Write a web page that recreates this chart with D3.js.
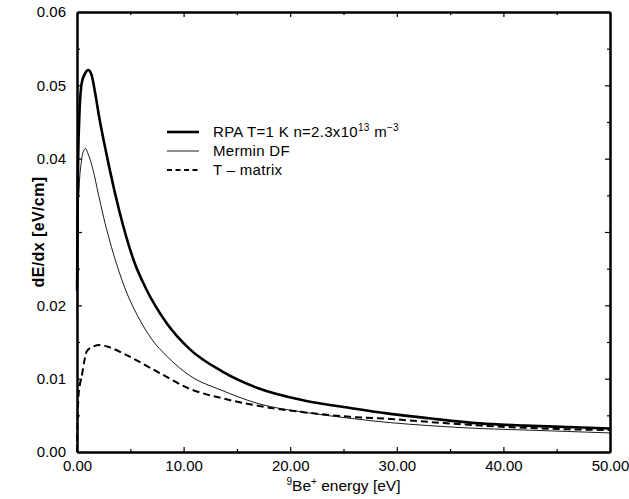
<!DOCTYPE html>
<html>
<head>
<meta charset="utf-8">
<script src="https://cdn.jsdelivr.net/npm/d3@7"></script>
<style>
  body { margin: 0; background: #fff; }
  text { font-family: "Liberation Sans", Arial, sans-serif; }
</style>
</head>
<body>
<div id="chart"></div>
<script>
// values
var rpaX = [0.01, 0.05, 0.1, 0.2, 0.44, 0.75, 1.05, 1.35, 1.7, 2.1, 2.6, 3.1, 4.0, 5.4, 6.5, 8.4, 10.6, 13.6, 17, 21.4, 25.6, 29.4, 33, 37.8, 42, 46, 50]
var rpaY = [0.022, 0.032, 0.039, 0.045, 0.0503, 0.0516, 0.0521, 0.0515, 0.049, 0.0455, 0.0418, 0.0383, 0.0327, 0.0258, 0.0222, 0.0176, 0.0140, 0.0110, 0.0087, 0.0070, 0.0060, 0.0052, 0.0046, 0.0039, 0.0036, 0.0034, 0.0032]

var merminX = [0.01, 0.05, 0.1, 0.2, 0.4, 0.6, 0.8, 1.0, 1.5, 2.0, 2.5, 3.7, 4.7, 5.9, 7.0, 8.4, 10.6, 13.6, 17, 21.4, 25.6, 29.4, 33, 37.8, 42, 46, 50]
var merminY = [0.018, 0.027, 0.032, 0.036, 0.0395, 0.041, 0.0414, 0.0408, 0.0385, 0.0352, 0.032, 0.0257, 0.0216, 0.0180, 0.0154, 0.0131, 0.0104, 0.0084, 0.0066, 0.0054, 0.0046, 0.0040, 0.0036, 0.0032, 0.0030, 0.0028, 0.0026]

var tmatX = [0, 0.03, 0.12, 0.25, 0.44, 0.7, 0.91, 1.4, 2.16, 3.0, 4.66, 7.47, 10.6, 13.7, 17.8, 21.4, 25.6, 29.4, 33, 37.8, 42, 46, 50]
var tmatY = [0, 0.003, 0.0071, 0.009, 0.0103, 0.0125, 0.0137, 0.0143, 0.0146, 0.0143, 0.0132, 0.011, 0.0086, 0.0073, 0.0061, 0.0054, 0.0048, 0.0045, 0.0041, 0.0036, 0.0033, 0.0031, 0.0030]

var xMajor = [0, 10, 20, 30, 40, 50]
var xMinor = [5, 15, 25, 35, 45]
var yMajor = [0, 0.01, 0.02, 0.03, 0.04, 0.05, 0.06]
var yMinor = [0.005, 0.015, 0.025, 0.035, 0.045, 0.055]
// the 0.03 label sits under the axis title in the original
var yHidden = [0.03]

var legendNames = ["RPA", "Mermin DF", "T \u2013 matrix"]

var width = 629, height = 499
var margin = {top: 12, right: 19, bottom: 47, left: 77}
var w = width - margin.left - margin.right
var h = height - margin.top - margin.bottom

var svg = d3.select("#chart").append("svg")
    .attr("width", width)
    .attr("height", height)
var g = svg.append("g")
    .attr("transform", "translate(" + margin.left + "," + margin.top + ")")

var x = d3.scaleLinear().domain([0, 50]).range([0, w])
var y = d3.scaleLinear().domain([0, 0.06]).range([h, 0])

// axes with inward ticks
function styleAxis(sel) {
    sel.select(".domain").attr("stroke-width", 2)
    sel.selectAll(".tick line").attr("stroke-width", 1.2)
    sel.selectAll("text").style("font-size", "15px").attr("fill", "#000")
}

var fmt = d3.format(".2f")

g.append("g").attr("transform", "translate(0," + h + ")")
    .call(d3.axisBottom(x).tickValues(xMajor).tickFormat(fmt).tickSize(-5).tickPadding(8).tickSizeOuter(0))
    .call(styleAxis)
g.append("g").attr("transform", "translate(0," + h + ")")
    .call(d3.axisBottom(x).tickValues(xMinor).tickFormat("").tickSize(-3).tickSizeOuter(0))
    .call(styleAxis)
g.append("g")
    .call(d3.axisTop(x).tickValues(xMajor).tickFormat("").tickSize(-5).tickSizeOuter(0))
    .call(styleAxis)
g.append("g")
    .call(d3.axisTop(x).tickValues(xMinor).tickFormat("").tickSize(-3).tickSizeOuter(0))
    .call(styleAxis)

g.append("g")
    .call(d3.axisLeft(y).tickValues(yMajor)
        .tickFormat(function(d) { return yHidden.includes(d) ? "" : fmt(d) })
        .tickSize(-5).tickPadding(11).tickSizeOuter(0))
    .call(styleAxis)
g.append("g")
    .call(d3.axisLeft(y).tickValues(yMinor).tickFormat("").tickSize(-3).tickSizeOuter(0))
    .call(styleAxis)
g.append("g").attr("transform", "translate(" + w + ",0)")
    .call(d3.axisRight(y).tickValues(yMajor).tickFormat("").tickSize(-5).tickSizeOuter(0))
    .call(styleAxis)
g.append("g").attr("transform", "translate(" + w + ",0)")
    .call(d3.axisRight(y).tickValues(yMinor).tickFormat("").tickSize(-3).tickSizeOuter(0))
    .call(styleAxis)

// curves
var line = d3.line()
    .x(function(d) { return x(d[0]) })
    .y(function(d) { return y(d[1]) })
    .curve(d3.curveMonotoneX)

var series = [
    {name: legendNames[0], xs: rpaX, ys: rpaY, width: 2.6, dash: null},
    {name: legendNames[1], xs: merminX, ys: merminY, width: 0.9, dash: null},
    {name: legendNames[2], xs: tmatX, ys: tmatY, width: 2, dash: "7,4"}
]

series.forEach(function(s) {
    g.append("path")
        .datum(d3.zip(s.xs, s.ys))
        .attr("fill", "none")
        .attr("stroke", "#000")
        .attr("stroke-width", s.width)
        .attr("stroke-dasharray", s.dash)
        .attr("d", line)
})

// legend
var legend = svg.append("g")
series.forEach(function(s, i) {
    var ly = 132 + 19 * i
    legend.append("line")
        .attr("x1", 167).attr("x2", 199)
        .attr("y1", ly).attr("y2", ly)
        .attr("stroke", "#000")
        .attr("stroke-width", s.width)
        .attr("stroke-dasharray", s.dash ? "5,3.5" : null)
    var t = legend.append("text")
        .attr("x", 213).attr("y", ly + 5)
        .style("font-size", "15px")
        .style("letter-spacing", "0.3px")
    if (i == 0) {
        t.append("tspan").text("RPA T=1 K n=2.3x10")
        t.append("tspan").text("13").attr("dy", -6).style("font-size", "10px")
        t.append("tspan").text(" m").attr("dy", 6)
        t.append("tspan").text("\u22123").attr("dy", -6).style("font-size", "10px")
    } else {
        t.text(s.name)
    }
})

// axis titles
var xt = svg.append("text")
    .attr("x", margin.left + w / 2)
    .attr("y", 491)
    .attr("text-anchor", "middle")
    .style("font-size", "15.5px")
xt.append("tspan").text("9").attr("dy", -6).style("font-size", "10px")
xt.append("tspan").text("Be").attr("dy", 6)
xt.append("tspan").text("+").attr("dy", -6).style("font-size", "10px")
xt.append("tspan").text(" energy [eV]").attr("dy", 6)

svg.append("text")
    .attr("transform", "translate(44," + (margin.top + h / 2) + ") rotate(-90)")
    .attr("text-anchor", "middle")
    .style("font-size", "16px")
    .style("font-weight", "bold")
    .style("letter-spacing", "0.4px")
    .text("dE/dx [eV/cm]")
</script>
</body>
</html>
